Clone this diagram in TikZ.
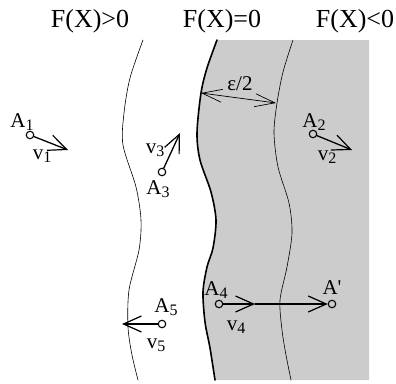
\documentclass[tikz,border=0pt]{standalone}
\usepackage{fontspec}
\setmainfont{Liberation Serif}
\usetikzlibrary{arrows.meta}

\newcommand\lowidx[1]{\raisebox{-0.35ex}{\fontsize{16}{16}\selectfont #1}}

\tikzset{
  pt/.style={circle, draw, line width=1.1pt, inner sep=0pt, minimum size=7.5pt},
  vec/.style={line width=1.3pt, -{Straight Barb[length=18pt, width=16pt, line width=1.2pt]}},
  lab/.style={font=\fontsize{21}{21}\selectfont, inner sep=0pt},
  head/.style={font=\fontsize{26}{26}\selectfont, inner sep=0pt}
}

\begin{document}
\begin{tikzpicture}[x=1pt, y=-1pt, line cap=round, line join=round]

\useasboundingbox (0,0) rectangle (396,383);

% -----------------------
% Boundary curves
% -----------------------
\def\zerocurve{(217,40) (207,68) (201,93) (197,133) (200,160) (211,192) (216,220) (213,248) (207,267) (203,292) (205,322) (210,348) (215,380)}

% shaded region F(X)<0
\fill[black!20] plot[smooth] coordinates {\zerocurve} -- (369,380) -- (369,40) -- cycle;

% F(X)=0
\draw[line width=1.6pt] plot[smooth] coordinates {\zerocurve};

% inner offset curve
\draw[line width=0.6pt] plot[smooth] coordinates {(293,40) (283,72) (277,103) (274,133) (278,167) (289,203) (292,233) (287,267) (280,300) (282,330) (286,355) (291,380)};

% outer offset curve
\draw[line width=0.6pt] plot[smooth] coordinates {(143,40) (130,78) (124,113) (123,145) (136,187) (141,220) (139,250) (129,290) (128,327) (132,355) (138,380)};

% -----------------------
% Headings
% -----------------------
\node[head] (hpos) at (90,21) {F(X)>0};
\node[head] (hzero) at (222,21) {F(X)=0};
\node[head] (hneg) at (355,21) {F(X)<0};

% -----------------------
% epsilon/2 width
% -----------------------
\coordinate (e1) at (201,93);
\coordinate (e2) at (276,103);
\draw[line width=0.7pt, {Straight Barb[length=20pt, width=13pt, line width=0.7pt]}-{Straight Barb[length=20pt, width=13pt, line width=0.7pt]}] (e1) -- (e2);
\node[lab] (eps) at (240,84) {ε/2};

% -----------------------
% Points and velocities
% -----------------------
\node[pt] (A1) at (30,135) {};
\coordinate (v1tip) at (68,150);
\draw[vec] (A1) -- (v1tip);
\node[lab] at (22,122) {A\lowidx{1}};
\node[lab] at (42,156) {v\lowidx{1}};

\node[pt] (A2) at (313,134) {};
\coordinate (v2tip) at (352,150);
\draw[vec] (A2) -- (v2tip);
\node[lab] at (314,122) {A\lowidx{2}};
\node[lab] at (327,157) {v\lowidx{2}};

\node[pt] (A3) at (162,172) {};
\coordinate (v3tip) at (180,133);
\draw[vec] (A3) -- (v3tip);
\node[lab] at (158,189) {A\lowidx{3}};
\node[lab] at (155,150) {v\lowidx{3}};

\node[pt] (A4) at (219,304) {};
\node[pt] (Ap) at (332,304) {};
\coordinate (v4tip) at (255,304);
\draw[vec] (A4) -- (v4tip);
\draw[vec] (v4tip) -- (Ap);
\node[lab] at (216,290) {A\lowidx{4}};
\node[lab] at (236,327) {v\lowidx{4}};
\node[lab] at (332,288) {A\textquotesingle};

\node[pt] (A5) at (162,324) {};
\coordinate (v5tip) at (122,324);
\draw[vec] (A5) -- (v5tip);
\node[lab] at (166,307) {A\lowidx{5}};
\node[lab] at (156,345) {v\lowidx{5}};

\end{tikzpicture}
\end{document}
